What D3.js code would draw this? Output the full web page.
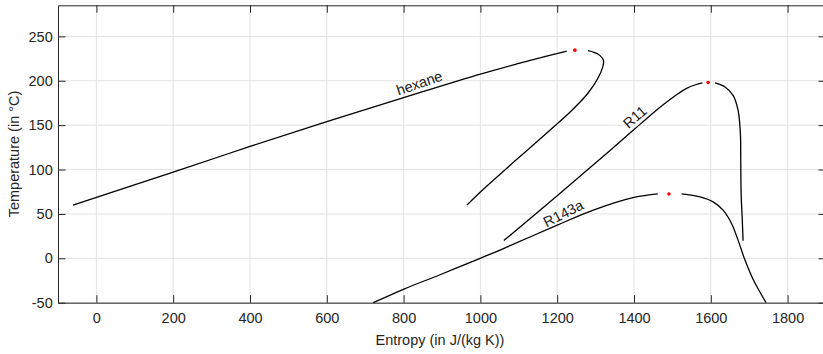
<!DOCTYPE html>
<html>
<head>
<meta charset="utf-8">
<script src="https://cdn.jsdelivr.net/npm/d3@7"></script>
<style>
  body { margin: 0; background: #fff; overflow: hidden; }
  svg { display: block; font-family: "Liberation Sans", Arial, Helvetica, sans-serif; }
</style>
</head>
<body>
<div id="chart"></div>
<script>
// Saturation curves, [entropy J/(kg K), temperature °C]
const hexaneLiquid = [[-61, 60], [200, 97], [400, 126], [600, 154], [800, 181], [1000, 207.5], [1100, 219.5], [1175, 228], [1207, 231.5], [1225, 233.3]];
const hexaneVapor = [[1280, 233.9], [1296, 232], [1311, 228.6], [1320.5, 223], [1319, 216.3], [1306, 202.8], [1280, 185.9], [1238.5, 166.8], [1181, 144.3], [1095, 111.5], [1007, 77.5], [965, 60]];
const r11Liquid = [[1061, 20], [1200, 70.5], [1311, 111.5], [1400, 145], [1437, 159], [1476, 173], [1510, 184], [1537, 191.5], [1560, 195.5], [1578, 197.5]];
const r11Vapor = [[1611, 197.5], [1637, 193], [1658, 183.6], [1671, 166.8], [1677, 140.5], [1678, 110.5], [1679, 73], [1682, 43], [1684, 19.7]];
const r143aLiquid = [[721, -50], [801, -34.6], [895, -18.5], [1001, 0.3], [1051, 9.3], [1200, 37.4], [1294, 54.3], [1400, 68.6], [1462, 72.6]];
const r143aVapor = [[1524, 72.6], [1572, 69.2], [1606, 63.6], [1632, 54.3], [1654, 39.3], [1671, 20.5], [1689, -2], [1711, -24.5], [1744, -50]];

// critical points
const critical = [[1246, 234.5], [1593, 198], [1491, 72.5]];

// curve labels: name, s, T, angle
const labels = [["hexane", 841, 197.5, -19], ["R11", 1402, 159.2, -41], ["R143a", 1216, 50.6, -27]];

const xTicks = [0, 200, 400, 600, 800, 1000, 1200, 1400, 1600, 1800];
const yTicks = [-50, 0, 50, 100, 150, 200, 250];

const width = 823;
const height = 354;
const axisColor = "#262626";
const fontSize = "14.5px";

const svg = d3.select("#chart")
    .append("svg")
    .attr("width", width)
    .attr("height", height);

// Scales
const x = d3.scaleLinear().domain([-100, 1900]).range([58, 826]);
const y = d3.scaleLinear().domain([-50, 285]).range([302.7, 5.3]);

// Grid
svg.append("g")
    .selectAll("line")
    .data(xTicks)
    .enter()
    .append("line")
    .attr("x1", d => x(d)).attr("x2", d => x(d))
    .attr("y1", y(-50)).attr("y2", y(285))
    .attr("stroke", "#e2e2e2");

svg.append("g")
    .selectAll("line")
    .data(yTicks)
    .enter()
    .append("line")
    .attr("x1", x(-100)).attr("x2", x(1900))
    .attr("y1", d => y(d)).attr("y2", d => y(d))
    .attr("stroke", "#e2e2e2");

// Curves
const line = d3.line()
    .x(d => x(d[0]))
    .y(d => y(d[1]))
    .curve(d3.curveCatmullRom.alpha(0.5));

svg.append("g")
    .selectAll("path")
    .data([hexaneLiquid, hexaneVapor, r11Liquid, r11Vapor, r143aLiquid, r143aVapor])
    .enter()
    .append("path")
    .attr("d", line)
    .attr("fill", "none")
    .attr("stroke", "#000")
    .attr("stroke-width", 1.3);

svg.append("g")
    .selectAll("circle")
    .data(critical)
    .enter()
    .append("circle")
    .attr("cx", d => x(d[0]))
    .attr("cy", d => y(d[1]))
    .attr("r", 1.8)
    .attr("fill", "#ff0000");

svg.append("g")
    .selectAll("text")
    .data(labels)
    .enter()
    .append("text")
    .attr("transform", d => `translate(${x(d[1])},${y(d[2])}) rotate(${d[3]})`)
    .attr("text-anchor", "middle")
    .attr("dy", "0.35em")
    .attr("font-size", fontSize)
    .attr("fill", "#1a1a1a")
    .text(d => d[0]);

// Axes with inward ticks on all four sides
const plain = d => String(d);

function styleAxis(g) {
    g.select(".domain").attr("stroke", axisColor);
    g.selectAll(".tick line").attr("stroke", axisColor);
    g.selectAll(".tick text").attr("fill", axisColor).attr("font-size", fontSize);
    g.attr("font-family", null);
}

svg.append("g")
    .attr("transform", `translate(0,${y(-50)})`)
    .call(d3.axisBottom(x).tickValues(xTicks).tickFormat(plain).tickSizeInner(-7.5).tickSizeOuter(0).tickPadding(10.5))
    .call(styleAxis);

svg.append("g")
    .attr("transform", `translate(0,${y(285)})`)
    .call(d3.axisTop(x).tickValues(xTicks).tickSizeInner(-7.5).tickSizeOuter(0).tickFormat(""))
    .call(styleAxis);

svg.append("g")
    .attr("transform", `translate(${x(-100)},0)`)
    .call(d3.axisLeft(y).tickValues(yTicks).tickFormat(plain).tickSizeInner(-7.5).tickSizeOuter(0).tickPadding(5.3))
    .call(styleAxis);

svg.append("g")
    .attr("transform", `translate(${x(1900)},0)`)
    .call(d3.axisRight(y).tickValues(yTicks).tickSizeInner(-7.5).tickSizeOuter(0).tickFormat(""))
    .call(styleAxis);

// Axis titles
svg.append("text")
    .attr("x", (x(-100) + x(1900)) / 2 - 2)
    .attr("y", 340)
    .attr("text-anchor", "middle")
    .attr("dy", "0.35em")
    .attr("font-size", fontSize)
    .attr("fill", axisColor)
    .text("Entropy (in J/(kg K))");

svg.append("text")
    .attr("transform", `translate(14,${(y(-50) + y(285)) / 2}) rotate(-90)`)
    .attr("text-anchor", "middle")
    .attr("dy", "0.35em")
    .attr("font-size", fontSize)
    .attr("fill", axisColor)
    .text("Temperature (in °C)");
</script>
</body>
</html>
